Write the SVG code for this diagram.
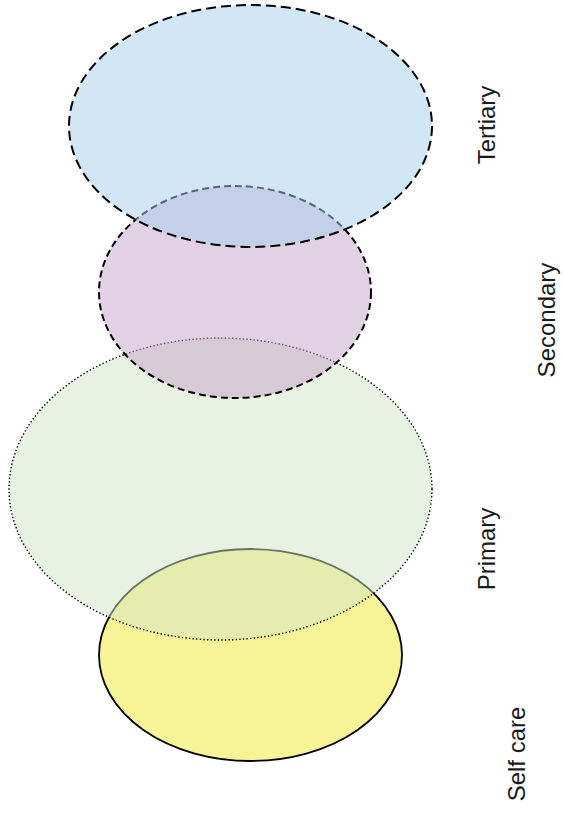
<svg xmlns="http://www.w3.org/2000/svg" width="563" height="814" viewBox="0 0 563 814">
<style>
.lbl{font-family:"Liberation Sans",Arial,sans-serif;font-size:24px;fill:#1a1a1a;text-anchor:middle}
.e{fill-opacity:0.5;stroke:#000}
</style>
<rect width="563" height="814" fill="#fff"/>
<g id="selfcare">
<ellipse cx="250.5" cy="655" rx="151.5" ry="106" fill="#F7F397" stroke="#000" stroke-width="1.8"/>
</g>
<g id="primary">
<ellipse class="e" cx="220.5" cy="489" rx="211.5" ry="151" fill="#D1E5C5" stroke-width="1.4" stroke-dasharray="1.4 2.2"/>
</g>
<g id="secondary">
<ellipse class="e" cx="235" cy="292" rx="136" ry="106" fill="#C5A1CB" stroke-width="2" stroke-dasharray="7 4"/>
</g>
<g id="tertiary">
<ellipse class="e" cx="250.5" cy="126" rx="181.5" ry="121" fill="#A5CFEB" stroke-width="2" stroke-dasharray="10 5"/>
</g>
<g id="labels">
<text class="lbl" transform="translate(495,125) rotate(-90)">Tertiary</text>
<text class="lbl" transform="translate(554.5,320) rotate(-90)">Secondary</text>
<text class="lbl" transform="translate(495,549) rotate(-90)">Primary</text>
<text class="lbl" transform="translate(524.5,754) rotate(-90)">Self care</text>
</g>
<g id="connectors"></g>
</svg>
